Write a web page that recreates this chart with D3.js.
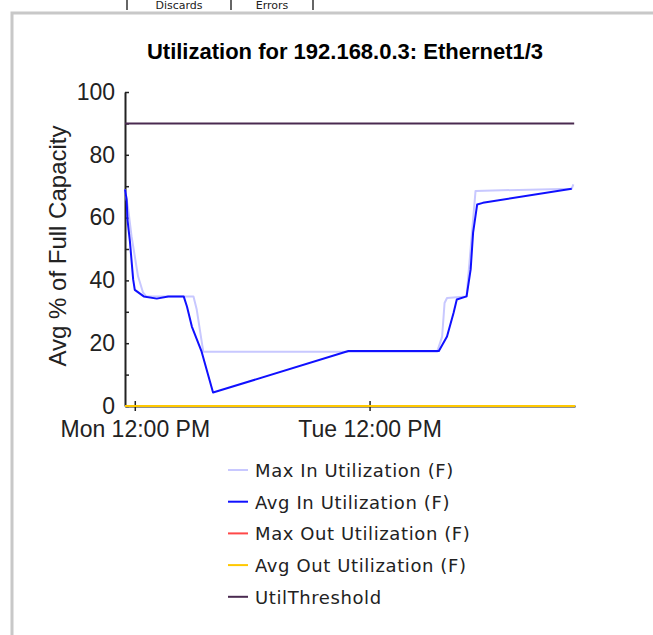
<!DOCTYPE html>
<html>
<head>
<meta charset="utf-8">
<script src="https://cdn.jsdelivr.net/npm/d3@7"></script>
<style>
  body { margin: 0; background: #fff; }
  svg { display: block; }
  .title { font: bold 22px 'Liberation Sans', Arial, sans-serif; fill: #000; }
  .axis text { font: 23px 'Liberation Sans', Arial, sans-serif; fill: #222; }
  .ylabel { font: 24px 'Liberation Sans', Arial, sans-serif; fill: #222; }
  .legend text { font: 18px 'DejaVu Sans', Verdana, sans-serif; fill: #222; letter-spacing: 0.6px; }
  .tabs text { font: 11px 'DejaVu Sans', Verdana, sans-serif; fill: #222; }
</style>
</head>
<body>
<svg width="653" height="635"></svg>
<script>
(function(d3) {
    'use strict';

    // values, % of full capacity
    var maxIn = [
        ['2004-03-01 11:00', 69], ['2004-03-01 11:20', 62.6], ['2004-03-01 11:40', 54.1],
        ['2004-03-01 12:00', 47.7], ['2004-03-01 12:20', 41.3], ['2004-03-01 12:50', 36.2],
        ['2004-03-01 13:10', 34.9], ['2004-03-01 18:00', 34.9], ['2004-03-01 18:20', 30.7],
        ['2004-03-01 19:00', 17.3], ['2004-03-02 18:55', 17.3], ['2004-03-02 19:25', 22.1],
        ['2004-03-02 19:40', 32.8], ['2004-03-02 19:55', 34.4], ['2004-03-02 21:55', 34.9],
        ['2004-03-02 22:50', 68.5], ['2004-03-03 08:40', 69.2], ['2004-03-03 08:50', 70.6]
    ];
    var avgIn = [
        ['2004-03-01 11:00', 69], ['2004-03-01 11:10', 65.8], ['2004-03-01 11:15', 59.4],
        ['2004-03-01 11:30', 52.5], ['2004-03-01 11:50', 40.3], ['2004-03-01 12:00', 37],
        ['2004-03-01 12:55', 34.9], ['2004-03-01 14:15', 34.2], ['2004-03-01 15:25', 34.9],
        ['2004-03-01 17:00', 34.9], ['2004-03-01 17:20', 31.7], ['2004-03-01 17:50', 25.3],
        ['2004-03-01 18:50', 17.3], ['2004-03-01 20:00', 4.3], ['2004-03-02 09:50', 17.5],
        ['2004-03-02 19:05', 17.5], ['2004-03-02 19:55', 22.1], ['2004-03-02 20:35', 29.6],
        ['2004-03-02 20:55', 33.9], ['2004-03-02 21:55', 34.9], ['2004-03-02 22:20', 43.5],
        ['2004-03-02 22:35', 55.2], ['2004-03-02 23:00', 64.2], ['2004-03-02 23:35', 64.7],
        ['2004-03-03 08:40', 69.2]
    ];
    var maxOut = [['2004-03-01 11:00', 0], ['2004-03-03 09:00', 0]];
    var avgOut = [['2004-03-01 11:00', 0], ['2004-03-03 09:00', 0]];
    var threshold = [['2004-03-01 11:00', 90], ['2004-03-03 08:55', 90]];

    var timeDomain = ['2004-03-01 11:00', '2004-03-03 09:00'];
    var timeTicks = ['2004-03-01 12:00', '2004-03-02 12:00'];
    var yTicks = [0, 10, 20, 30, 40, 50, 60, 70, 80, 90, 100];

    var seriesNames = ['Max In Utilization (F)', 'Avg In Utilization (F)', 'Max Out Utilization (F)',
        'Avg Out Utilization (F)', 'UtilThreshold'];
    var seriesColors = ['#c8c8ff', '#1010ff', '#ff4848', '#ffc800', '#4a2a50'];
    var seriesData = [maxIn, avgIn, maxOut, avgOut, threshold];

    var parseTime = d3.timeParse('%Y-%m-%d %H:%M'),
        tickFormat = d3.timeFormat('%a %I:%M %p');

    var x = d3.scaleTime().domain(timeDomain.map(parseTime)).range([125, 575]),
        y = d3.scaleLinear().domain([0, 100]).range([406, 92]);

    var svg = d3.select('svg');

    // panel frame and the tab strip above it
    svg.append('path')
        .attr('d', 'M12,635V13H653')
        .attr('fill', 'none')
        .attr('stroke', '#c8c8c8')
        .attr('stroke-width', 3);

    var tabs = svg.append('g').attr('class', 'tabs');
    [127, 231, 313].forEach(function (px) {
        tabs.append('line')
            .attr('x1', px).attr('x2', px)
            .attr('y1', 0).attr('y2', 10)
            .attr('stroke', '#333').attr('stroke-width', 1.5);
    });
    tabs.append('text').attr('x', 179).attr('y', 9).attr('text-anchor', 'middle').text('Discards');
    tabs.append('text').attr('x', 272).attr('y', 9).attr('text-anchor', 'middle').text('Errors');

    svg.append('text')
        .attr('class', 'title')
        .attr('x', 345)
        .attr('y', 59)
        .attr('text-anchor', 'middle')
        .text('Utilization for 192.168.0.3: Ethernet1/3');

    svg.append('text')
        .attr('class', 'ylabel')
        .attr('transform', 'translate(66,246) rotate(-90)')
        .attr('text-anchor', 'middle')
        .text('Avg % of Full Capacity');

    // x axis
    var xAxis = svg.append('g')
        .attr('class', 'axis')
        .attr('transform', 'translate(0,' + y(0) + ')')
        .call(d3.axisBottom(x)
            .tickValues(timeTicks.map(parseTime))
            .tickFormat(tickFormat)
            .tickSizeOuter(0)
            .tickSizeInner(5)
            .tickPadding(10));
    xAxis.select('.domain').attr('stroke', '#222').attr('stroke-width', 2);
    xAxis.selectAll('.tick line').attr('y1', -5).attr('stroke', '#222').attr('stroke-width', 1.5);

    // y axis
    var yAxis = svg.append('g')
        .attr('class', 'axis')
        .attr('transform', 'translate(' + x.range()[0] + ',0)')
        .call(d3.axisLeft(y)
            .tickValues(yTicks)
            .tickFormat(function (d) { return d % 20 === 0 ? d : ''; })
            .tickSizeOuter(0)
            .tickSizeInner(4)
            .tickPadding(6));
    yAxis.select('.domain').attr('stroke', '#222').attr('stroke-width', 2);
    yAxis.selectAll('.tick line').attr('x2', 4).attr('stroke', '#222').attr('stroke-width', 1.5);

    var line = d3.line()
        .x(function (d) { return x(parseTime(d[0])); })
        .y(function (d) { return y(d[1]); });

    // draw order: max in, red, yellow, threshold, then avg in on top
    var drawOrder = [0, 2, 3, 4, 1];
    svg.append('g')
        .selectAll('path')
        .data(drawOrder)
        .enter()
        .append('path')
        .attr('fill', 'none')
        .attr('stroke', function (i) { return seriesColors[i]; })
        .attr('stroke-width', 2)
        .attr('stroke-linejoin', 'round')
        .attr('d', function (i) { return line(seriesData[i]); });

    var legend = svg.selectAll('.legend')
        .data(seriesNames)
        .enter()
        .append('g')
        .attr('class', 'legend')
        .attr('transform', function (d, i) {
            return 'translate(228,' + (470 + i * 31.7) + ')';
        });

    legend.append('line')
        .attr('x1', 0)
        .attr('x2', 20)
        .attr('stroke', function (d, i) { return seriesColors[i]; })
        .attr('stroke-width', 2);

    legend.append('text')
        .attr('x', 27)
        .attr('y', 7)
        .text(function (d) { return d; });
})(window.d3);
</script>
</body>
</html>
